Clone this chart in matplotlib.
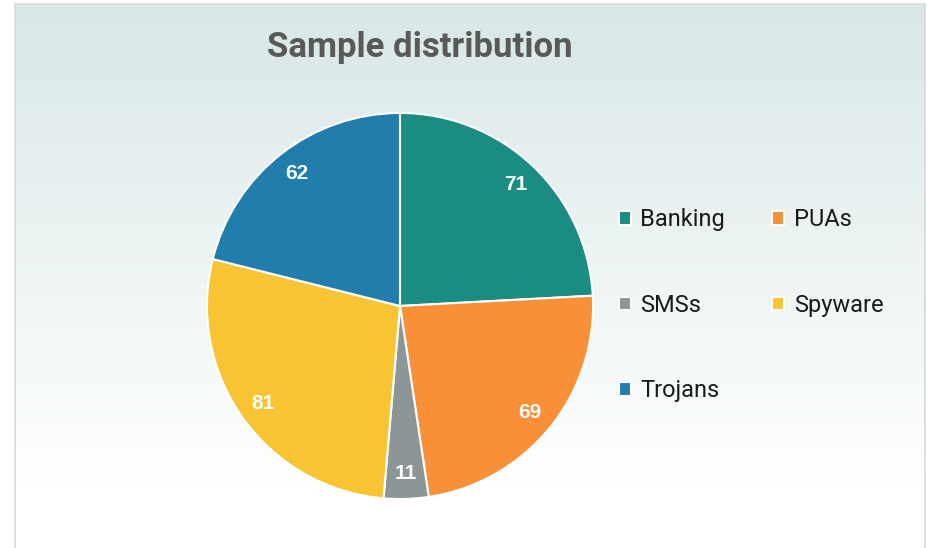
import numpy as np
import matplotlib
matplotlib.use("Agg")
import matplotlib.pyplot as plt
from matplotlib.patches import Rectangle

categories = ["Banking", "PUAs", "SMSs", "Spyware", "Trojans"]
samples = [71, 69, 11, 81, 62]
colors = ["#1a8c82", "#f98f36", "#8c9696", "#f9c433", "#217dab"]

fig = plt.figure(figsize=(9.28, 5.48), dpi=100)

# chart area: soft gradient with a light grey frame
bg = fig.add_axes([15 / 928, -0.05, 910 / 928, 1.05 - 4 / 548], zorder=0)
grad = np.linspace(0, 1, 256).reshape(-1, 1)
top = np.array([0.851, 0.906, 0.906])
bottom = np.array([1.0, 1.0, 1.0])
w = np.clip(grad / 0.85, 0, 1)
img = top * (1 - w) + bottom * w
bg.imshow(img[:, None, :].repeat(2, axis=1), aspect="auto", extent=[0, 1, 0, 1])
bg.set_axis_off()
fig.add_artist(Rectangle((15 / 928, -0.05), 910 / 928, 1.05 - 4 / 548,
                         transform=fig.transFigure, fill=False,
                         edgecolor="#d9d9d9", linewidth=1.2, zorder=5))

ax = fig.add_axes([206 / 928, (548 - 306 - 194) / 548, 388 / 928, 388 / 548], zorder=2)
wedges, _, autotexts = ax.pie(
    samples,
    colors=colors,
    startangle=90,
    counterclock=False,
    autopct=lambda p: f"{p * sum(samples) / 100:.0f}",
    pctdistance=0.87,
    wedgeprops=dict(edgecolor="white", linewidth=1.5),
    textprops=dict(color="white", fontsize=15, fontweight="bold",
                   family="Liberation Sans"),
)
ax.set_xlim(-1.005, 1.005)
ax.set_ylim(-1.005, 1.005)
ax.set_aspect("equal")

fig.text(420 / 928, 1 - 47 / 548, "Sample distribution", ha="center", va="center",
         fontsize=25, fontweight="bold", color="#595959", family="Roboto")

order = [0, 2, 4, 1, 3]
leg = fig.legend(
    [wedges[i] for i in order],
    [categories[i] for i in order],
    ncol=2,
    loc="upper left",
    bbox_to_anchor=(598 / 928, 1 - 187 / 548),
    frameon=False,
    prop=dict(family="Roboto", size=17),
    handlelength=0.5,
    handleheight=0.5,
    handletextpad=0.4,
    labelspacing=2.65,
    columnspacing=2.0,
)
for t in leg.get_texts():
    t.set_color("#1a1a1a")

fig.savefig("out.png", dpi=100)
